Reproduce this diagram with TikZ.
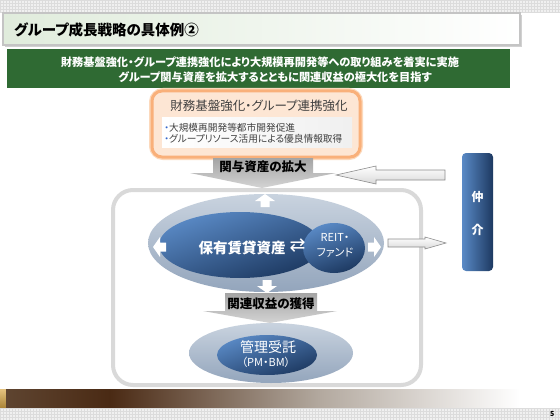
\documentclass[tikz,border=0pt]{standalone}
\usepackage{fontspec}
\setmainfont{Noto Sans CJK JP}[RawFeature=+palt]
\newfontfamily\symfont{DejaVu Sans}
\usetikzlibrary{shapes.geometric}
\definecolor{gridbg}{HTML}{F0F0F0}
\definecolor{gridln}{HTML}{DCDCDC}
\definecolor{titlegreen}{HTML}{E0ECDC}
\definecolor{titleborder}{HTML}{C4C4C4}
\definecolor{bannergreen}{HTML}{2F6A33}
\definecolor{orangeborder}{HTML}{F9B07A}
\definecolor{orangeglow}{HTML}{FCD9BC}
\definecolor{orangefill}{HTML}{FDE6D4}
\definecolor{framegray}{HTML}{D9D9D9}
\definecolor{arrtop}{HTML}{A4A4A4}
\definecolor{arrbot}{HTML}{D4D4D4}
\definecolor{outtop}{HTML}{C9D3DF}
\definecolor{outbot}{HTML}{93A5BC}
\definecolor{intop}{HTML}{5A8AC6}
\definecolor{inbot}{HTML}{1D3961}
\definecolor{darktext}{HTML}{404040}
\definecolor{bulletblue}{HTML}{3366CC}
\definecolor{gold}{HTML}{D8A848}
\definecolor{brownA}{HTML}{5E4430}
\definecolor{brownB}{HTML}{4A2A14}
\definecolor{brownC}{HTML}{B3A99F}
\tikzset{
  fs/.style={font=\fontsize{#1}{#1}\selectfont},
  fsb/.style={font=\bfseries\fontsize{#1}{#1}\selectfont},
  graydown/.style={top color=arrtop, bottom color=arrbot},
  outlinearrow/.style={top color=white, bottom color=black!15, draw=black!45, line width=0.6pt},
  warrow/.pic={\fill[white] (-6,-4.5)--(0,-4.5)--(0,-10)--(7,0)--(0,10)--(0,4.5)--(-6,4.5)--cycle;}
}
\begin{document}
\begin{tikzpicture}[x=1pt,y=-1pt]
\useasboundingbox (0,0) rectangle (560,420);
\fill[white] (0,0) rectangle (560,420);
% top and bottom grid bands
\fill[gridbg] (0,0) rectangle (560,12);
\draw[gridln, line width=0.3pt, step=3pt] (0,0) grid (560,12);
\fill[gridbg] (0,408) rectangle (560,420);
\draw[gridln, line width=0.3pt, step=3pt] (0,408) grid (560,420);
% bottom brown bar
\shade[top color=gold!70!white, bottom color=gold!80!black] (0,389) rectangle (6,407);
\shade[left color=brownA, right color=brownB] (6,389) rectangle (110,407);
\shade[left color=brownB, right color=brownC] (110,389) rectangle (320,407);
\shade[left color=brownC, right color=white] (320,389) rectangle (520,407);
\node[fsb=7, anchor=east] (pg) at (558,414) {5};
% title bar
\fill[black!18] (5,15) rectangle (522,47);
\shadedraw[left color=titlegreen, right color=white, draw=titleborder, line width=1.2pt] (3,13) rectangle (520,45);
\node[fsb=14.5, anchor=west, inner sep=0] (title) at (14,30) {グループ成長戦略の具体例②};
% green banner
\fill[bannergreen] (7,49) rectangle (510,88);
\node[fsb=11.2, white, inner sep=0] (banA) at (260,62) {財務基盤強化・グループ連携強化により大規模再開発等への取り組みを着実に実施};
\node[fsb=11.2, white, inner sep=0] (banB) at (275,77) {グループ関与資産を拡大するとともに関連収益の極大化を目指す};
% big frame
\draw[framegray, line width=4pt, rounded corners=20pt] (113,190) rectangle (421,385);
% orange box
\draw[orangeglow, line width=6pt, rounded corners=11pt] (152,91) rectangle (360,157);
\draw[orangeborder, line width=3pt, fill=orangefill, rounded corners=10pt] (152,91) rectangle (360,157);
\node[fs=12.5, darktext, inner sep=0] (otitle) at (259,106) {財務基盤強化・グループ連携強化};
\shade[left color=white, right color=black!6] (162,117) rectangle (352,147);
\node[fs=9.7, darktext, anchor=west, inner sep=0] (bulA) at (164,128) {{\color{bulletblue}・}大規模再開発等都市開発促進};
\node[fs=9.7, darktext, anchor=west, inner sep=0] (bulB) at (164,138.5) {{\color{bulletblue}・}グループリソース活用による優良情報取得};
% grey arrow 1
\shade[graydown] (213,158)--(313,158)--(313,173)--(336,173)--(262,188)--(190,173)--(213,173)--cycle;
\node[fsb=12.5, inner sep=0] (arrA) at (263,167) {関与資産の拡大};
% outline arrows
\shadedraw[outlinearrow] (336,175)--(376,166)--(376,170)--(445,170)--(445,180)--(376,180)--(376,184)--cycle;
\shadedraw[outlinearrow] (388,239)--(425,239)--(425,237)--(446,243)--(425,249)--(425,247)--(388,247)--cycle;
% main ellipses
\node[ellipse, inner sep=0, minimum width=236pt, minimum height=98pt, top color=outtop, bottom color=outbot] (outer) at (266,243) {};
\node[ellipse, inner sep=0, minimum width=162pt, minimum height=66pt, top color=intop, bottom color=inbot, shading angle=20] (inner) at (240,245) {};
\node[ellipse, inner sep=0, minimum width=62pt, minimum height=50pt, top color=intop, bottom color=inbot, shading angle=20] (reitc) at (334,248) {};
\node[fsb=14.5, white, inner sep=0] (hoyu) at (242,248) {保有賃貸資産};
\node[fs=11, white, inner sep=0, align=center] (reit) at (335,245) {REIT・\\[4pt]ファンド};
\node[font=\symfont\fontsize{19}{19}\selectfont, white, inner sep=0] (sym) at (297.5,246) {⇄};
% white block arrows
\pic[rotate=90] at (265,201) {warrow};
\pic[rotate=180] at (160,247) {warrow};
\pic at (374,247) {warrow};
\pic[rotate=-90] at (267,286) {warrow};
% grey arrow 2
\shade[graydown] (225,293)--(317,293)--(317,311)--(337,311)--(270,323)--(203,311)--(225,311)--cycle;
\node[fsb=12.5, inner sep=0] (arrB) at (271,304) {関連収益の獲得};
% bottom ellipses
\node[ellipse, inner sep=0, minimum width=164pt, minimum height=60pt, top color=outtop, bottom color=outbot] (outerB) at (271,353) {};
\node[ellipse, inner sep=0, minimum width=100pt, minimum height=40pt, top color=intop, bottom color=inbot, shading angle=20] (innerB) at (267,355) {};
\node[fs=14, white, inner sep=0] (kanri) at (268,347) {管理受託};
\node[fs=11, white, inner sep=0] (pmbm) at (266,362) {（PM・BM）};
% chukai box
\node[rectangle, rounded corners=4pt, inner sep=0, minimum width=31pt, minimum height=118pt, left color=intop, right color=inbot] (chuBox) at (477.5,212) {};
\node[fsb=12, white, inner sep=0] (chuA) at (477.5,197) {仲};
\node[fsb=12, white, inner sep=0] (chuB) at (477.5,230) {介};
\end{tikzpicture}
\end{document}
